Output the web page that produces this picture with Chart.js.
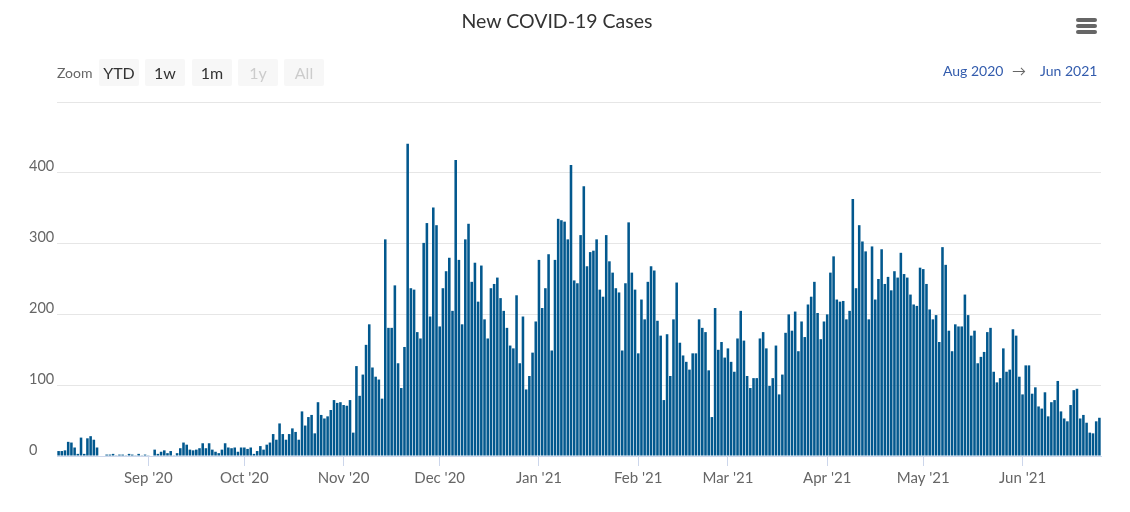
<!DOCTYPE html>
<html lang="en">
  <head>
    <meta charset="UTF-8" />
    <title>New COVID-19 Cases</title>
    <style>
      body {
        margin: 0;
        background: #fff;
        font-family: Lato, "Noto Sans", sans-serif;
      }

      .chart-wrap {
        position: relative;
        width: 1130px;
        height: 512px;
      }

      #chart {
        position: absolute;
        left: 0;
        top: 0;
      }

      /* Header bits drawn over the canvas */
      .title {
        position: absolute;
        top: 9px;
        left: 0;
        width: 1114px;
        text-align: center;
        font-size: 19.5px;
        color: #333;
      }

      .menu {
        position: absolute;
        left: 1076px;
        top: 18px;
        width: 21px;
      }

      .menu span {
        display: block;
        height: 4px;
        margin-bottom: 2px;
        background: #666;
        border-radius: 2px;
      }

      .zoom-label {
        position: absolute;
        left: 57px;
        top: 64px;
        font-size: 14px;
        color: #666;
      }

      .btn {
        position: absolute;
        top: 59px;
        width: 40px;
        height: 27px;
        line-height: 27px;
        background: #f7f7f7;
        border-radius: 2px;
        text-align: center;
        font-size: 16px;
        color: #333;
      }

      .btn.off {
        color: #ccc;
      }

      .range {
        position: absolute;
        top: 62px;
        font-size: 14px;
        color: #335cad;
      }
    </style>
  </head>
  <body>
    <div class="chart-wrap">
      <canvas id="chart" width="1130" height="512"></canvas>
      <div class="title">New COVID-19 Cases</div>
      <div class="menu"><span></span><span></span><span></span></div>
      <div class="zoom-label">Zoom</div>
      <div class="btn" style="left: 99px">YTD</div>
      <div class="btn" style="left: 145px">1w</div>
      <div class="btn" style="left: 192px">1m</div>
      <div class="btn off" style="left: 238px">1y</div>
      <div class="btn off" style="left: 284px">All</div>
      <div class="range" style="left: 943px">Aug 2020</div>
      <div class="range" style="left: 1012px; color: #666">&rarr;</div>
      <div class="range" style="left: 1040px">Jun 2021</div>
    </div>

    <script src="https://cdn.jsdelivr.net/npm/chart.js"></script>
    <script>
      // daily new cases, first value is 4 Aug 2020
      const aug20 = [7, 7, 8, 20, 19, 12, 3, 26, 3, 25, 28, 23, 12, 0, 0, 2, 2, 3, 1, 2, 2, 1, 3, 2, 1, 3, 1, 2];
      const sep20 = [1, 0, 9, 3, 6, 8, 4, 7, 1, 4, 11, 19, 16, 9, 8, 9, 11, 18, 11, 18, 9, 6, 4, 9, 18, 12, 11, 12, 6, 12];
      const oct20 = [12, 10, 12, 3, 7, 14, 9, 16, 19, 31, 23, 46, 31, 23, 31, 39, 34, 23, 63, 43, 55, 58, 32, 76, 58, 53, 56, 65, 79, 75, 76];
      const nov20 = [72, 71, 79, 33, 127, 85, 115, 157, 186, 125, 112, 108, 81, 306, 181, 181, 241, 131, 96, 154, 441, 237, 235, 175, 166, 301, 329, 197, 351, 326];
      const dec20 = [183, 237, 261, 280, 205, 418, 277, 186, 306, 328, 246, 273, 218, 269, 193, 166, 237, 243, 252, 223, 205, 181, 156, 152, 227, 131, 197, 94, 113, 146, 190];
      const jan21 = [277, 209, 237, 285, 149, 277, 335, 333, 331, 306, 411, 248, 244, 312, 381, 268, 288, 290, 306, 235, 225, 312, 275, 259, 237, 231, 149, 244, 330, 259, 235];
      const feb21 = [145, 221, 193, 246, 268, 262, 191, 170, 79, 172, 113, 193, 245, 160, 142, 133, 122, 145, 145, 193, 181, 175, 121, 55, 209, 150, 161, 139];
      const mar21 = [152, 133, 119, 166, 205, 163, 113, 96, 110, 110, 166, 175, 152, 99, 110, 156, 87, 115, 174, 200, 177, 204, 148, 190, 168, 214, 225, 246, 202, 165, 190];
      const apr21 = [200, 259, 282, 221, 218, 219, 193, 205, 363, 237, 326, 303, 289, 193, 296, 221, 250, 292, 243, 253, 234, 261, 252, 287, 257, 252, 228, 214, 212, 266];
      const may21 = [264, 243, 207, 193, 199, 161, 295, 270, 177, 148, 186, 183, 183, 228, 199, 170, 177, 131, 140, 147, 175, 181, 119, 104, 110, 152, 119, 122, 179, 170, 112];
      const jun21 = [87, 128, 128, 88, 97, 70, 67, 90, 56, 76, 79, 106, 63, 53, 49, 72, 93, 95, 53, 58, 47, 33, 32, 49, 54];

      const months = [aug20, sep20, oct20, nov20, dec20, jan21, feb21, mar21, apr21, may21, jun21];
      const monthTicks = ["Sep '20", "Oct '20", "Nov '20", "Dec '20", "Jan '21", "Feb '21", "Mar '21", "Apr '21", "May '21", "Jun '21"];
      const yTicks = [0, 100, 200, 300, 400, 500];

      const cases = months.flat();

      // one label per day starting 4 Aug 2020
      const labels = cases.map((_, i) => {
        const d = new Date(Date.UTC(2020, 7, 4 + i));
        return d.toISOString().slice(0, 10);
      });

      // index of the 1st of each month after August
      const monthStarts = [];
      let pos = 0;
      months.forEach((m, i) => {
        if (i > 0) monthStarts.push(pos);
        pos += m.length;
      });

      const ctx = document.getElementById("chart").getContext("2d");
      new Chart(ctx, {
        type: "bar",
        data: {
          labels: labels,
          datasets: [
            {
              data: cases,
              backgroundColor: "#02588e",
              barPercentage: 0.8,
              categoryPercentage: 1,
            },
          ],
        },
        options: {
          responsive: false,
          animation: false,
          layout: { padding: { left: 29, top: 102, right: 29, bottom: 0 } },
          plugins: {
            legend: { display: false },
            tooltip: { enabled: false },
          },
          scales: {
            x: {
              offset: true,
              grid: {
                offset: false,
                drawOnChartArea: false,
                color: "#ccd6eb",
                tickLength: 10,
              },
              border: { color: "#ccd6eb" },
              ticks: {
                autoSkip: false,
                maxRotation: 0,
                padding: 3,
                color: "#666",
                font: { family: "Lato", size: 15 },
                callback: function (value, index) {
                  const k = monthStarts.indexOf(index);
                  return k >= 0 ? monthTicks[k] : null;
                },
              },
              afterFit: function (scale) {
                scale.height = 56;
              },
            },
            y: {
              min: yTicks[0],
              max: yTicks[yTicks.length - 1],
              afterBuildTicks: function (scale) {
                scale.ticks = yTicks.map((v) => ({ value: v }));
              },
              grid: { color: "#e6e6e6", drawTicks: false },
              border: { display: false },
              ticks: {
                crossAlign: "far",
                labelOffset: -6,
                color: "#666",
                font: { family: "Lato", size: 14.5 },
                callback: function (value) {
                  return value === 500 ? "" : value;
                },
              },
              afterFit: function (scale) {
                scale.width = 28;
              },
            },
          },
        },
      });
    </script>
  </body>
</html>
